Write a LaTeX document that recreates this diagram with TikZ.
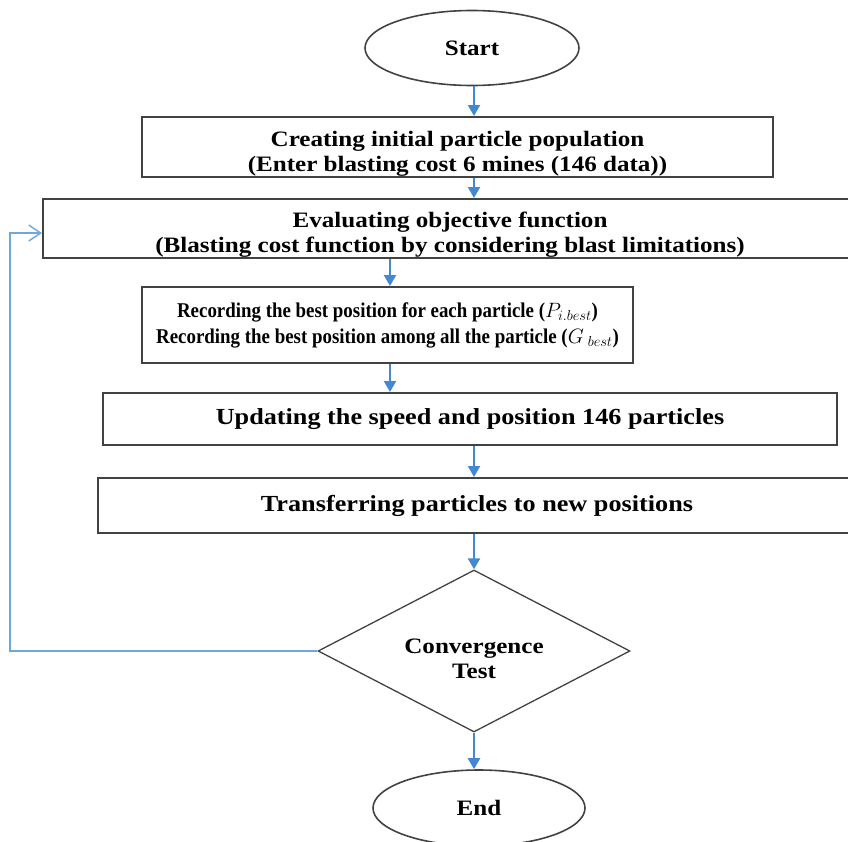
\documentclass[tikz,border=0pt]{standalone}
\usepackage{fontspec}
\setmainfont[FakeStretch=1.14]{Liberation Serif}
\newfontfamily\plainserif[FakeStretch=0.9]{Liberation Serif}
\usetikzlibrary{shapes.geometric,arrows.meta}
\definecolor{flowblue}{RGB}{66,136,210}
\definecolor{loopblue}{RGB}{112,166,224}
\definecolor{edgegray}{RGB}{66,66,66}

\begin{document}
\begin{tikzpicture}[x=1pt,y=-1pt]
\def \colx {474}
\def \midx {390}
\useasboundingbox (0,0) rectangle (848,841);
   \tikzset{StepStyle/.style = {shape = rectangle, draw = edgegray, line width = 2pt, inner sep = 0pt, align = center, font = \bfseries\fontsize{22}{25}\selectfont}}
   \tikzset{WordStyle/.style = {inner sep = 0pt, align = center, font = \bfseries\fontsize{22}{25}\selectfont}}
   \tikzset{EndStyle/.style = {shape = ellipse, draw = edgegray, line width = 1.6pt, inner sep = 0pt, font = \bfseries\fontsize{22}{25}\selectfont}}
   \tikzset{TestStyle/.style = {shape = diamond, draw = edgegray, line width = 1.3pt, inner sep = 0pt, aspect = 1.93}}
   \tikzset{FlowStyle/.style = {draw = flowblue, line width = 2.2pt, -{Triangle[width=12pt,length=11pt]}}}
   \tikzset{BackStyle/.style = {draw = loopblue, line width = 1.4pt, -{Straight Barb[width=16pt,length=12pt]}}}

   \node[EndStyle, minimum width=214pt, minimum height=75pt] (start) at (472,48) {Start};
   \node[StepStyle, minimum width=631pt, minimum height=60pt] (init) at (457.5,147) {};
   \node[WordStyle] (initText) at (457.5,154) {Creating initial particle population\\(Enter blasting cost 6 mines (146 data))};
   \node[StepStyle, minimum width=826pt, minimum height=59pt] (eval) at (456,228.5) {};
   \node[WordStyle] (evalText) at (450,235) {Evaluating objective function\\(Blasting cost function by considering blast limitations)};
   \node[StepStyle, minimum width=491pt, minimum height=76pt, font=\plainserif\bfseries\fontsize{21}{26}\selectfont] (record) at (387.5,325) {Recording the best position for each particle ($P_{i.best}$)\\Recording the best position among all the particle ($G_{\;best}$)};
   \node[StepStyle, minimum width=734pt, minimum height=52pt, font=\bfseries\fontsize{23}{25}\selectfont] (update) at (470,419) {Updating the speed and position 146 particles};
   \node[StepStyle, minimum width=772pt, minimum height=55pt] (move) at (484,505.5) {};
   \node[WordStyle, font=\bfseries\fontsize{23}{25}\selectfont] (moveText) at (477,506) {Transferring particles to new positions};
   \node[TestStyle, minimum width=312pt, minimum height=162pt] (test) at (474,651) {};
   \node[WordStyle] (testText) at (474,659) {Convergence\\Test};
   \node[EndStyle, minimum width=212pt, minimum height=76pt] (end) at (479,808) {End};

   \coordinate (col) at (\colx,0);
   \coordinate (midcol) at (\midx,0);
   \coordinate (ret) at (10,233);

%   flow down the column
   \draw[FlowStyle] (start.south -| col) -- (init.north -| col);
   \draw[FlowStyle] (init.south -| col) -- (eval.north -| col);
   \draw[FlowStyle] (eval.south -| midcol) -- (record.north -| midcol);
   \draw[FlowStyle] (record.south -| midcol) -- (update.north -| midcol);
   \draw[FlowStyle] (update.south -| col) -- (move.north -| col);
   \draw[FlowStyle] (move.south -| col) -- (test.north);
   \draw[FlowStyle] (test.south) -- (end.north -| test.south);

   \draw[BackStyle] (test.west) -- (test.west -| ret) -- (ret) -- (ret -| eval.west);

\end{tikzpicture}
\end{document}
